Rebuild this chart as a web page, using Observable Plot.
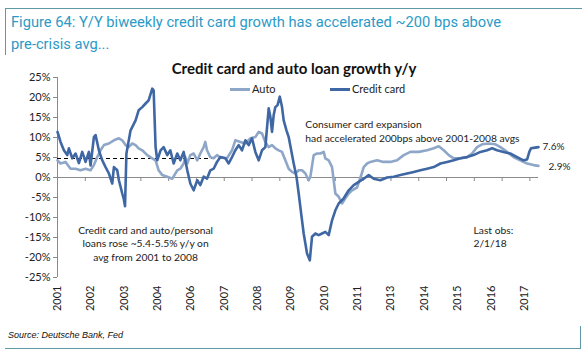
<!DOCTYPE html>
<html><head><meta charset="utf-8">
<script src="https://cdn.jsdelivr.net/npm/d3@7"></script>
<script src="https://cdn.jsdelivr.net/npm/@observablehq/plot@0.6"></script>
<style>
body{margin:0;background:#fff;}
#wrap{position:relative;width:584px;height:360px;overflow:hidden;font-family:Lato,"Open Sans",sans-serif;background:#fff;}
#hdr{position:absolute;left:5px;top:8px;width:576px;height:46px;border-top:1.5px solid #5f99a5;border-left:1.5px solid #5f99a5;}
#hdr div{position:absolute;left:5px;top:2px;font-family:Roboto,Arial,sans-serif;font-size:14.7px;line-height:22px;color:#2b9ac6;white-space:nowrap;}
#ftr{position:absolute;left:5px;top:326px;width:575px;height:22px;border-bottom:1.5px solid #5f99a5;border-right:1.5px solid #5f99a5;}
#ftr div{position:absolute;left:3px;top:4px;font-family:Arial,"Liberation Sans",sans-serif;font-style:italic;font-size:9px;color:#111;}
#title{position:absolute;left:0;width:588px;top:59px;text-align:center;font-weight:bold;font-size:15px;color:#111;}
.lg{position:absolute;top:82px;font-size:11px;color:#222;}
.lg span{display:inline-block;width:20px;height:3px;vertical-align:middle;margin-right:2px;position:relative;top:-1px;}
#chart{position:absolute;left:0;top:56px;}
</style></head>
<body><div id="wrap">
<div id="hdr"><div>Figure 64: Y/Y biweekly credit card growth has accelerated ~200 bps above<br>pre-crisis avg...</div></div>
<div id="title">Credit card and auto loan growth y/y</div>
<div class="lg" style="left:230px"><span style="background:#8ea6c7"></span>Auto</div>
<div class="lg" style="left:330px"><span style="background:#3f67a4"></span>Credit card</div>
<div id="chart"></div>
<div id="ftr"><div>Source: Deutsche Bank, Fed</div></div>
</div>
<script>
// x positions are in category-axis units (one unit = one tick interval)
const yearLabels = ["2001","2002","2003","2004","2006","2007","2008","2009","2010","2011","2013","2014","2015","2016","2017"];
const labelStep = 1.2;
const tickCount = 18;
const yTicks = [-25,-20,-15,-10,-5,0,5,10,15,20,25];
const preCrisisAvg = 4.75;
const preCrisisEnd = 6.15;

const ccT = [0.00,0.11,0.23,0.35,0.41,0.53,0.65,0.77,0.89,1.01,1.13,1.19,1.31,1.37,1.49,1.61,1.73,1.85,1.97,2.03,2.15,2.21,2.33,2.38,2.43,2.48,2.63,2.81,2.92,3.05,3.17,3.28,3.41,3.46,3.53,3.59,3.71,3.82,3.95,4.06,4.18,4.31,4.42,4.54,4.67,4.78,4.90,5.03,5.14,5.26,5.38,5.50,5.62,5.74,5.86,6.04,6.16,6.28,6.40,6.52,6.64,6.76,6.88,7.00,7.12,7.24,7.36,7.48,7.60,7.66,7.72,7.78,7.84,7.92,8.00,8.08,8.14,8.24,8.32,8.41,8.50,8.60,8.68,8.74,8.80,8.86,8.92,8.98,9.08,9.16,9.28,9.40,9.52,9.64,9.76,9.88,10.00,10.12,10.30,10.48,10.66,10.84,11.02,11.20,11.38,11.62,11.86,12.10,12.34,12.58,12.82,13.06,13.30,13.54,13.78,14.02,14.26,14.50,14.74,14.97,15.22,15.46,15.64,15.82,16.05,16.29,16.54,16.77,16.90,16.98,17.04,17.13,17.31];
const ccV = [11.4,8.9,6.8,5.6,7.3,4.8,6.0,3.6,6.4,3.9,6.4,3.0,10.1,10.6,6.8,4.3,2.6,1.0,-1.5,2.6,1.8,-0.7,-4.0,-5.2,-7.2,6.0,11.8,14.3,16.8,17.6,18.5,19.3,22.2,21.8,7.6,4.3,6.8,7.6,5.6,6.8,3.5,6.0,4.3,6.4,1.8,-1.5,-3.2,-0.7,-1.9,0.2,-0.3,1.8,2.2,3.9,5.1,4.8,3.5,5.1,6.8,8.1,6.8,9.3,8.1,9.8,6.4,4.3,6.8,7.6,17.3,15.2,11.4,15.6,17.6,18.1,20.2,17.6,14.3,11.8,10.1,6.8,3.5,0.2,-4.0,-7.4,-10.7,-14.0,-16.5,-19.0,-20.7,-14.8,-14.0,-14.4,-14.0,-13.6,-14.4,-10.7,-8.2,-6.5,-5.2,-3.2,-1.9,-1.1,-0.3,0.6,-0.3,-0.7,0.0,0.2,0.6,1.0,1.4,1.8,2.2,2.6,3.5,3.9,4.3,4.8,5.1,5.6,6.4,6.8,7.3,6.8,6.4,6.0,5.1,4.3,4.5,6.4,7.3,7.4,7.6];

const autoT = [0.00,0.11,0.29,0.47,0.65,0.83,1.01,1.19,1.31,1.43,1.55,1.67,1.85,2.03,2.21,2.33,2.45,2.56,2.69,2.81,2.92,3.05,3.23,3.41,3.53,3.64,3.77,3.95,4.13,4.31,4.42,4.54,4.60,4.67,4.78,4.90,5.03,5.14,5.26,5.32,5.38,5.50,5.62,5.74,5.86,6.10,6.28,6.40,6.58,6.76,6.94,7.12,7.24,7.36,7.48,7.60,7.72,7.84,7.96,8.08,8.20,8.32,8.44,8.56,8.68,8.80,8.92,9.04,9.10,9.22,9.34,9.46,9.58,9.64,9.76,9.88,9.94,10.00,10.12,10.24,10.36,10.48,10.60,10.78,10.95,11.02,11.14,11.26,11.50,11.73,11.98,12.22,12.46,12.70,13.00,13.30,13.54,13.72,13.90,14.08,14.26,14.50,14.74,14.92,15.10,15.28,15.51,15.76,15.94,16.18,16.41,16.65,16.90,17.13,17.31];
const autoV = [4.3,3.5,3.9,2.2,2.2,1.8,2.2,1.8,3.1,5.1,6.8,8.1,8.5,9.3,9.8,9.3,8.1,7.6,8.5,8.1,7.3,6.8,5.6,4.8,4.3,1.8,0.6,0.2,-0.3,1.8,2.2,3.5,5.1,3.5,5.6,6.0,4.3,6.0,7.6,8.9,6.8,5.1,4.8,5.6,5.0,4.8,6.8,9.3,8.9,8.5,9.8,10.1,11.4,11.0,8.9,7.6,8.1,7.3,6.8,6.4,4.3,2.2,1.4,1.0,1.8,1.8,1.0,-0.7,0.2,5.6,6.0,6.0,6.4,4.8,4.3,2.6,-0.7,-4.0,-4.8,-6.5,-5.2,-4.0,-3.2,-2.5,1.0,2.6,3.5,3.9,4.3,3.9,3.9,4.3,5.6,6.4,6.4,6.8,7.3,7.8,6.8,5.6,4.8,4.8,5.1,6.0,7.6,8.3,8.5,8.3,7.6,6.4,5.1,4.3,3.5,3.1,2.9];

const cc = ccT.map((t,i)=>({t, v: ccV[i]}));
const auto = autoT.map((t,i)=>({t, v: autoV[i]}));
const xMax = ccT[ccT.length-1];
const xTickPos = d3.range(tickCount);
const xLabelPos = yearLabels.map((_,i)=>+(i*labelStep).toFixed(2));
const lastCC = cc[cc.length-1], lastAuto = auto[auto.length-1];

const noteCard = [{t: 8.92, v: 14.8, text: "Consumer card expansion\nhad accelerated 200bps above 2001-2008 avgs"}];
const noteAvg = [{t: 3.17, v: -11.6, text: "Credit card and auto/personal\nloans rose ~5.4-5.5% y/y on\navg from 2001 to 2008"}];
const noteLast = [{t: 14.97, v: -11.6, text: "Last obs:\n2/1/18"}];
const noteStyle = {x: "t", y: "v", text: "text", lineAnchor: "top", lineHeight: 1.33, fontSize: 10.3, fill: "#222"};

const chart = Plot.plot({
  width: 584, height: 260,
  marginLeft: 57, marginRight: 46, marginTop: 21, marginBottom: 39,
  style: {fontFamily: "Lato, 'Open Sans', sans-serif", fontSize: "11px", color: "#222", background: "transparent"},
  x: {domain: [0, xMax], axis: null},
  y: {domain: [-25, 25], axis: null},
  marks: [
    Plot.ruleY([0], {stroke: "#8a8a8a", strokeWidth: 1}),
    Plot.ruleX([0], {y1: -25, y2: 25, stroke: "#8a8a8a", strokeWidth: 1}),
    Plot.ruleX(xTickPos, {x: d=>d, y1: 0, y2: -1, stroke: "#8a8a8a"}),
    Plot.axisY({ticks: yTicks, tickFormat: d => d + "%", tickSize: 4, tickPadding: 3, stroke: "#8a8a8a", fill: "#222", fontSize: 11, label: null}),
    Plot.axisX({ticks: xLabelPos, tickFormat: d => yearLabels[Math.round(d/labelStep)], tickRotate: -90, tickSize: 0, tickPadding: 8, fill: "#222", fontSize: 11, label: null}),
    Plot.ruleY([preCrisisAvg], {x1: 0, x2: preCrisisEnd, stroke: "#000", strokeWidth: 1.2, strokeDasharray: "4,3"}),
    Plot.line(auto, {x: "t", y: "v", stroke: "#8ea6c7", strokeWidth: 2.6, strokeLinejoin: "round"}),
    Plot.line(cc, {x: "t", y: "v", stroke: "#3f67a4", strokeWidth: 2.6, strokeLinejoin: "round"}),
    Plot.text(noteCard, {...noteStyle, textAnchor: "start"}),
    Plot.text(noteAvg, {...noteStyle, textAnchor: "middle"}),
    Plot.text(noteLast, {...noteStyle, textAnchor: "start"}),
    Plot.text([lastCC], {x: "t", y: "v", text: d => d.v.toFixed(1) + "%", textAnchor: "start", dx: 4, fontSize: 10, fill: "#222"}),
    Plot.text([lastAuto], {x: "t", y: "v", text: d => d.v.toFixed(1) + "%", textAnchor: "start", dx: 10, dy: 1, fontSize: 10, fill: "#222"})
  ]
});
document.getElementById("chart").appendChild(chart);
</script>
</body></html>
